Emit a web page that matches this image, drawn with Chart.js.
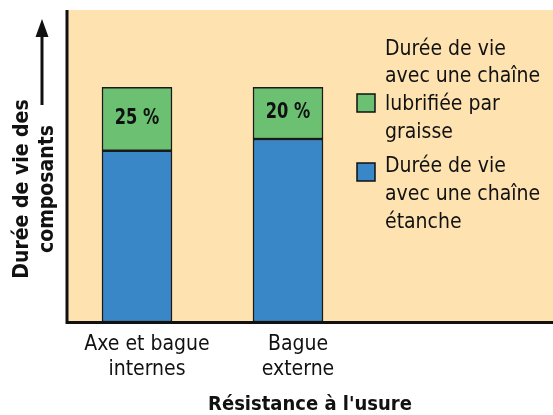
<!DOCTYPE html>
<html>
<head>
<meta charset="utf-8">
<script src="https://cdn.jsdelivr.net/npm/chart.js@4"></script>
<style>
  body { margin: 0; background: #fff; }
  canvas { display: block; }
</style>
</head>
<body>
<canvas id="chart" width="553" height="415"></canvas>
<script>
const categories = [["Axe et bague", "internes"], ["Bague", "externe"], ""];
const etanche = [73, 78, null];
const graisse = [27, 22, null];
const pctLabels = ["25 %", "20 %"];
const legendTexts = [
  ["Durée de vie", "avec une chaîne", "lubrifiée par", "graisse"],
  ["Durée de vie", "avec une chaîne", "étanche"]
];
const yTitle = ["Durée de vie des", "composants"];
const xTitle = "Résistance à l'usure";

const FONT = "'DejaVu Sans Condensed', 'Liberation Sans', sans-serif";
const peach = "#fee3b0";
const green = "#6cc072";
const blue = "#3a87c8";
const AXIS_X = 67;

const decor = {
  id: "decor",
  beforeDraw(chart) {
    const c = chart.ctx, a = chart.chartArea;
    c.save();
    c.fillStyle = peach;
    c.fillRect(AXIS_X, a.top, chart.width - AXIS_X, a.bottom - a.top);
    c.restore();
  },
  afterDraw(chart) {
    const c = chart.ctx, a = chart.chartArea;
    c.save();
    // axis lines
    c.strokeStyle = "#111";
    c.lineWidth = 3;
    c.beginPath();
    c.moveTo(AXIS_X, a.top);
    c.lineTo(AXIS_X, a.bottom + 0.5);
    c.lineTo(chart.width, a.bottom + 0.5);
    c.stroke();

    // value labels on green parts
    const meta = chart.getDatasetMeta(1);
    c.fillStyle = "#111";
    c.font = "bold 22px " + FONT;
    c.textAlign = "center";
    c.textBaseline = "middle";
    pctLabels.forEach((t, i) => {
      const el = meta.data[i];
      c.save();
      c.translate(el.x, (el.y + el.base) / 2 - 1);
      c.scale(0.82, 1);
      c.fillText(t, 0, 0);
      c.restore();
    });

    // legend
    const cols = [green, blue];
    const boxY = [94, 163];
    const textY = [[50, 77, 105, 133], [167, 195, 223]];
    c.font = "21px " + FONT;
    c.textAlign = "left";
    legendTexts.forEach((lines, k) => {
      c.fillStyle = cols[k];
      c.fillRect(357, boxY[k], 18, 18);
      c.strokeStyle = "#111";
      c.lineWidth = 1.5;
      c.strokeRect(357, boxY[k], 18, 18);
      c.fillStyle = "#111";
      lines.forEach((l, j) => c.fillText(l, 385, textY[k][j]));
    });

    // x title
    c.font = "bold 20px " + FONT;
    c.textAlign = "center";
    c.fillText(xTitle, 310, 405);

    // y title + arrow
    c.font = "bold 21px " + FONT;
    yTitle.forEach((l, j) => {
      c.save();
      c.translate(23 + j * 25, 189);
      c.rotate(-Math.PI / 2);
      c.fillText(l, 0, 0);
      c.restore();
    });
    c.strokeStyle = "#111";
    c.lineWidth = 3;
    c.beginPath();
    c.moveTo(42, 105);
    c.lineTo(42, 32);
    c.stroke();
    c.fillStyle = "#111";
    c.beginPath();
    c.moveTo(42, 19);
    c.lineTo(35.5, 37);
    c.lineTo(48.5, 37);
    c.closePath();
    c.fill();
    c.restore();
  }
};

new Chart(document.getElementById("chart"), {
  type: "bar",
  data: {
    labels: categories,
    datasets: [
      { label: "Durée de vie avec une chaîne étanche", data: etanche, backgroundColor: blue,
        borderColor: "#1a1a1a", borderWidth: 1.5, borderSkipped: false, barThickness: 70 },
      { label: "Durée de vie avec une chaîne lubrifiée par graisse", data: graisse, backgroundColor: green,
        borderColor: "#1a1a1a", borderWidth: 1.5, borderSkipped: false, barThickness: 70 }
    ]
  },
  options: {
    responsive: false,
    animation: false,
    layout: { padding: { left: 61.5, top: 10, right: 38.5, bottom: 0 } },
    plugins: { legend: { display: false }, tooltip: { enabled: false } },
    scales: {
      x: {
        stacked: true,
        grid: { display: false },
        border: { display: false },
        ticks: { color: "#111", font: { family: FONT, size: 21, lineHeight: 1.2 }, padding: 2, labelOffset: 10, maxRotation: 0, autoSkip: false },
        afterFit(s) { s.height = 93; }
      },
      y: {
        stacked: true,
        min: 0,
        max: 133,
        grid: { display: false },
        border: { display: false },
        ticks: { display: false },
        afterFit(s) { s.width = 0; }
      }
    }
  },
  plugins: [decor]
});
</script>
</body>
</html>
